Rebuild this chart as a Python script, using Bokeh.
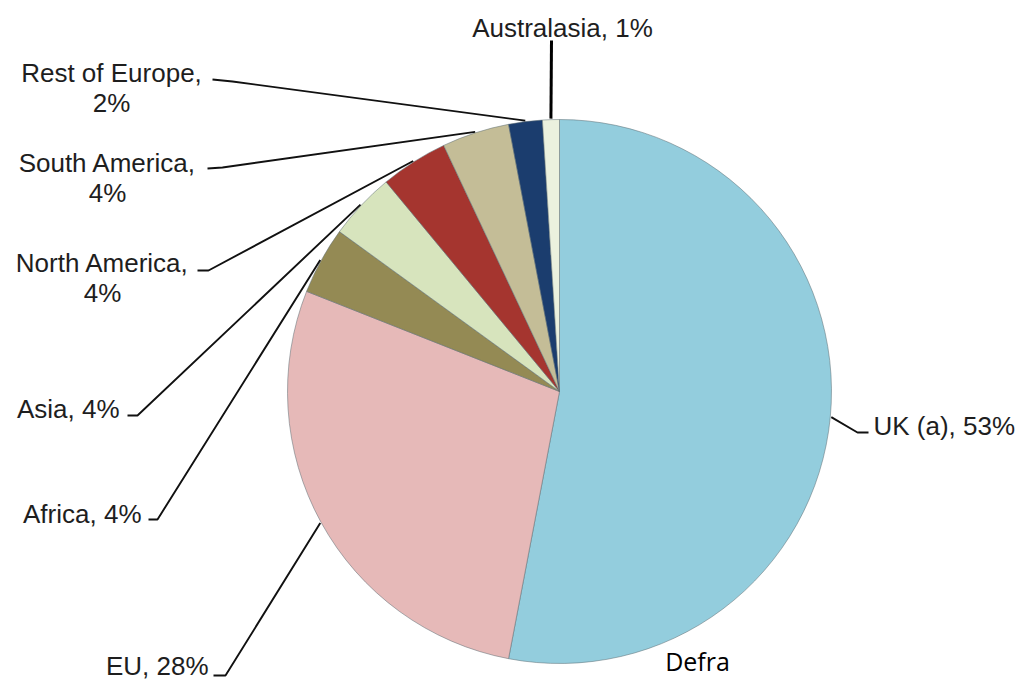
import math
from bokeh.plotting import figure
from bokeh.models import ColumnDataSource, Range1d
from bokeh.core.properties import value
from bokeh.embed import file_html
from bokeh.resources import INLINE

# ---- data ----
categories = ["UK (a)", "EU", "Africa", "Asia", "North America",
              "South America", "Rest of Europe", "Australasia"]
shares = [53, 28, 4, 4, 4, 4, 2, 1]
colors = ["#93CDDD", "#E6B9B8", "#948A54", "#D7E4BD", "#A5352F",
          "#C4BD97", "#1B3D6E", "#EBF1DE"]
source_note = "Defra"

# ---- layout (picture pixels) ----
W, H = 1015, 679


def px(X):
    return X


def py(Y):
    return H - Y


CX, CY, R = px(559), py(391), 272

layout = {
    "UK (a)": dict(tx=873, ty=425, align="left", two=False, hook=[(868, 432), (857, 432)]),
    "EU": dict(tx=208, ty=665, align="right", two=False, hook=[(213, 675), (225, 675)]),
    "Africa": dict(tx=141, ty=513, align="right", two=False, hook=[(148, 519), (157, 519)]),
    "Asia": dict(tx=119, ty=408, align="right", two=False, hook=[(127, 415), (137, 415)]),
    "North America": dict(tx=102, ty=262, align="center", two=True, hook=[(197, 270), (208, 270)]),
    "South America": dict(tx=107, ty=162, align="center", two=True, hook=[(207, 168), (222, 167)]),
    "Rest of Europe": dict(tx=111, ty=72, align="center", two=True, hook=[(212, 79), (232, 81)]),
    "Australasia": dict(tx=562, ty=27, align="center", two=False, hook=[(551, 40)]),
}

total = float(sum(shares))
starts, ends, mids = [], [], []
cum = 0.0
for s in shares:
    a = cum / total
    b = (cum + s) / total
    starts.append(math.pi / 2 - 2 * math.pi * b)
    ends.append(math.pi / 2 - 2 * math.pi * a)
    mids.append((a + b) / 2)
    cum += s

src = ColumnDataSource(dict(start=starts, end=ends, color=colors, cat=categories))

p = figure(width=W, height=H, x_range=Range1d(0, W), y_range=Range1d(0, H),
           output_backend="svg", toolbar_location=None, min_border=0,
           x_axis_type=None, y_axis_type=None)
p.grid.visible = False
p.outline_line_color = None
p.background_fill_color = "white"
p.border_fill_color = "white"

p.wedge(x=CX, y=CY, radius=R, start_angle="start", end_angle="end",
        direction="anticlock", fill_color="color", line_color="#5f6f74",
        line_width=0.7, line_alpha=0.75, source=src)

# leader lines
xs, ys = [], []
aus_x, aus_y = [], []
for cat, m in zip(categories, mids):
    L = layout[cat]
    th = 2 * math.pi * m
    ex = CX + (R + 1) * math.sin(th)
    ey = CY + (R + 1) * math.cos(th)
    lx = [px(h[0]) for h in L["hook"]] + [ex]
    ly = [py(h[1]) for h in L["hook"]] + [ey]
    if cat == "Australasia":
        aus_x, aus_y = lx, ly
    else:
        xs.append(lx)
        ys.append(ly)
p.multi_line(xs=xs, ys=ys, line_color="#111111", line_width=1.9)
p.line(x=aus_x, y=aus_y, line_color="#000000", line_width=3)

# labels
groups = {}
for cat, v in zip(categories, shares):
    L = layout[cat]
    g = groups.setdefault(L["align"], dict(x=[], y=[], t=[]))
    if L["two"]:
        g["x"] += [px(L["tx"]), px(L["tx"])]
        g["y"] += [py(L["ty"]), py(L["ty"] + 30)]
        g["t"] += [f"{cat},", f"{v}%"]
    else:
        g["x"].append(px(L["tx"]))
        g["y"].append(py(L["ty"]))
        g["t"].append(f"{cat}, {v}%")

for align, g in groups.items():
    p.text(x=g["x"], y=g["y"], text=g["t"], text_align=align,
           text_baseline="middle", text_font=value("Liberation Sans"),
           text_font_size="26px", text_color="#1e1e1e")

p.text(x=[px(697)], y=[py(660)], text=[source_note], text_align="center",
       text_baseline="middle", text_font=value("Open Sans"),
       text_font_size="25px", text_color="#000000")

open("out.html", "w").write(file_html(p, INLINE))
